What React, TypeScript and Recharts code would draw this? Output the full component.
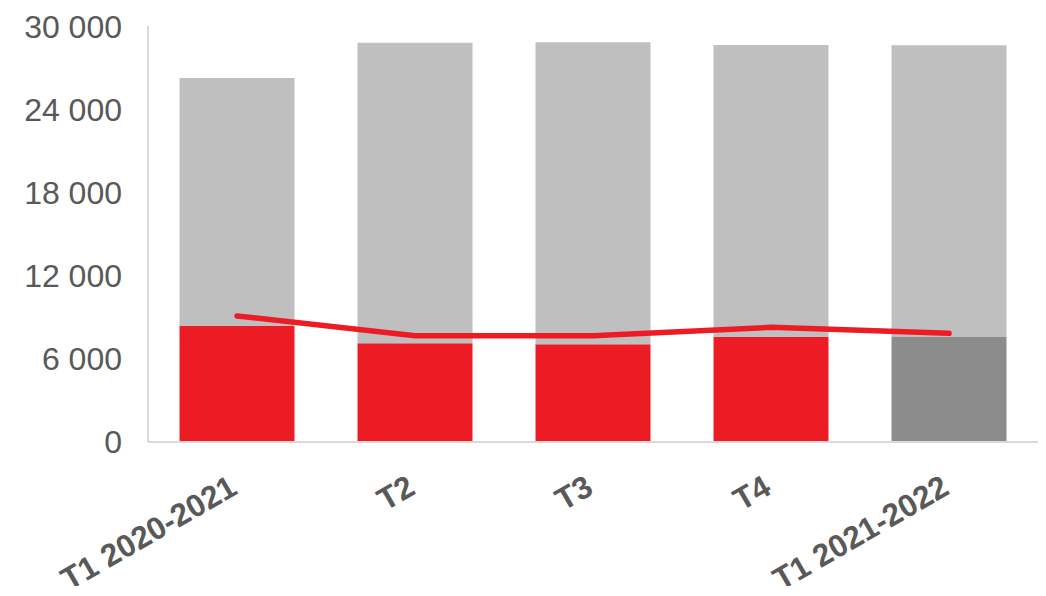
import React from 'react';
import { ComposedChart, Bar, Line, XAxis, YAxis } from 'recharts';

const categories = ['T1 2020-2021', 'T2', 'T3', 'T4', 'T1 2021-2022'];
const redValues = [8360, 7120, 7050, 7570, 0];
const darkValues = [0, 0, 0, 0, 7570];
const grayValues = [17890, 21680, 21780, 21060, 21040];
const lineValues = [9090, 7670, 7670, 8270, 7840];
const yTicks = [0, 6000, 12000, 18000, 24000, 30000];

const data = categories.map((c, i) => ({
  name: c,
  red: redValues[i],
  dark: darkValues[i],
  gray: grayValues[i],
  line: lineValues[i],
}));

const FONT = '"Liberation Sans", Arial, sans-serif';
const TEXT = '#595959';

const fmt = (v: number) => String(v).replace(/\B(?=(\d{3})+(?!\d))/g, ' ');

const XTick = (props: any) => {
  const { x, y, payload } = props;
  return (
    <g transform={`translate(${x + 2},${y + 51})`}>
      <text
        x={0}
        y={0}
        textAnchor="end"
        transform="rotate(-30)"
        fontFamily={FONT}
        fontWeight="bold"
        fontSize={31.5}
        fill={TEXT}
      >
        {payload.value}
      </text>
    </g>
  );
};

export default function App() {
  return (
    <div style={{ width: 1030, height: 578, background: '#fff', overflow: 'visible' }}>
      <ComposedChart
        width={1030}
        height={587}
        data={data}
        margin={{ top: 18, right: 0, bottom: 0, left: 0 }}
        barCategoryGap="17.7%"
      >
        <XAxis
          dataKey="name"
          axisLine={{ stroke: '#d9d9d9', strokeWidth: 2 }}
          tickLine={false}
          tickSize={0}
          tickMargin={0}
          height={153}
          interval={0}
          tick={<XTick />}
        />
        <YAxis
          domain={[0, 30000]}
          ticks={yTicks}
          width={140}
          axisLine={{ stroke: '#d9d9d9', strokeWidth: 2 }}
          tickLine={false}
          tickSize={0}
          tickMargin={26}
          tickFormatter={fmt}
          tick={{ fontFamily: FONT, fontSize: 32, fill: TEXT }}
        />
        <Bar dataKey="red" stackId="a" fill="#ED1C24" isAnimationActive={false} />
        <Bar dataKey="dark" stackId="a" fill="#8C8C8C" isAnimationActive={false} />
        <Bar dataKey="gray" stackId="a" fill="#BFBFBF" isAnimationActive={false} />
        <Line
          dataKey="line"
          type="linear"
          stroke="#ED1C24"
          strokeWidth={5.5}
          strokeLinecap="round"
          strokeLinejoin="round"
          dot={false}
          activeDot={false}
          isAnimationActive={false}
        />
      </ComposedChart>
    </div>
  );
}
